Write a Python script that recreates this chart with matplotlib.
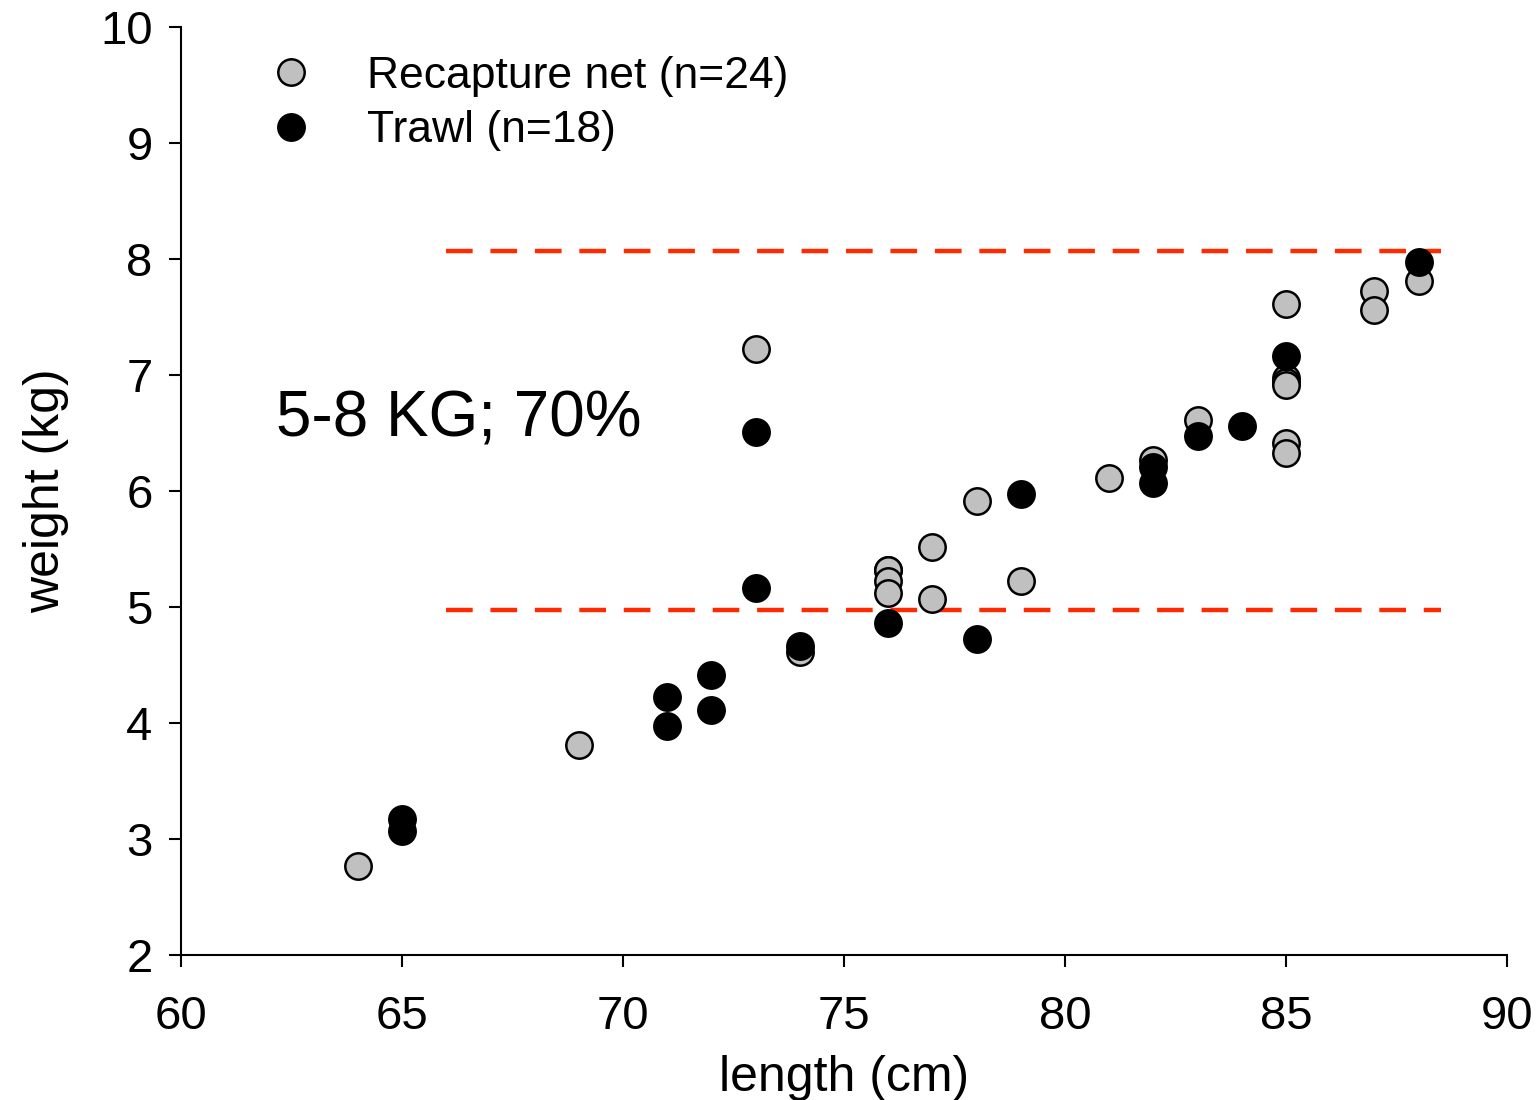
import matplotlib
matplotlib.use('Agg')
import matplotlib.pyplot as plt

plt.rcParams['font.family'] = ['Liberation Sans', 'DejaVu Sans']

# Recapture net (grey)
net_length = [64, 69, 73, 74, 76, 76, 76, 76, 77, 77, 78, 79, 81, 82, 83,
              85, 85, 85, 85, 85, 85, 87, 87, 88]
net_weight = [2.77, 3.81, 7.22, 4.61, 5.32, 5.32, 5.22, 5.12, 5.52, 5.07, 5.91, 5.22, 6.11, 6.27, 6.61,
              7.61, 6.97, 6.94, 6.91, 6.41, 6.33, 7.72, 7.56, 7.81]

# Trawl (black)
trawl_length = [65, 65, 71, 71, 72, 72, 73, 73, 74, 76, 78, 79, 82, 82, 83, 84, 85, 88]
trawl_weight = [3.17, 3.07, 4.22, 3.97, 4.41, 4.11, 6.51, 5.16, 4.66, 4.86, 4.72, 5.97,
                6.21, 6.07, 6.47, 6.56, 7.16, 7.97]

# 5-8 kg band limits
band_x = [66.0, 88.5]
band_low = 4.97
band_high = 8.07

fig, ax = plt.subplots(figsize=(15.38, 11), dpi=100)
fig.subplots_adjust(left=0.1177, right=0.9798, bottom=0.1318, top=0.9755)

ax.plot(net_length, net_weight, 'o', ms=19, mfc='#c0c0c0', mec='black', mew=1.8,
        label='Recapture net (n=24)', zorder=3)
ax.plot(trawl_length, trawl_weight, 'o', ms=19, mfc='black', mec='black', mew=1.8,
        label='Trawl (n=18)', zorder=4)

for yv in (band_low, band_high):
    ax.plot(band_x, [yv, yv], color='#ff2a00', lw=3.2, dashes=(6, 4), zorder=2)

ax.text(62.15, 6.62, '5-8 KG; 70%', fontsize=46, va='center', ha='left')

ax.set_xlim(60, 90)
ax.set_ylim(2, 10)
ax.set_xticks(range(60, 91, 5))
ax.set_yticks(range(2, 11))
ax.set_xlabel('length (cm)', fontsize=36, labelpad=12)
ax.set_ylabel('weight (kg)', fontsize=36, labelpad=22)

for s in ('top', 'right'):
    ax.spines[s].set_visible(False)
for s in ('left', 'bottom'):
    ax.spines[s].set_linewidth(1.5)
ax.tick_params(axis='both', labelsize=34, length=8.5, width=1.5, direction='out')
ax.tick_params(axis='x', pad=20)
ax.tick_params(axis='y', pad=12)

ax.legend(loc='upper left', bbox_to_anchor=(0.028, 1.012), frameon=False, fontsize=32,
          markerscale=1.0, handletextpad=0.95, labelspacing=0.3, handlelength=1.5)

fig.savefig('out.png', dpi=100)
